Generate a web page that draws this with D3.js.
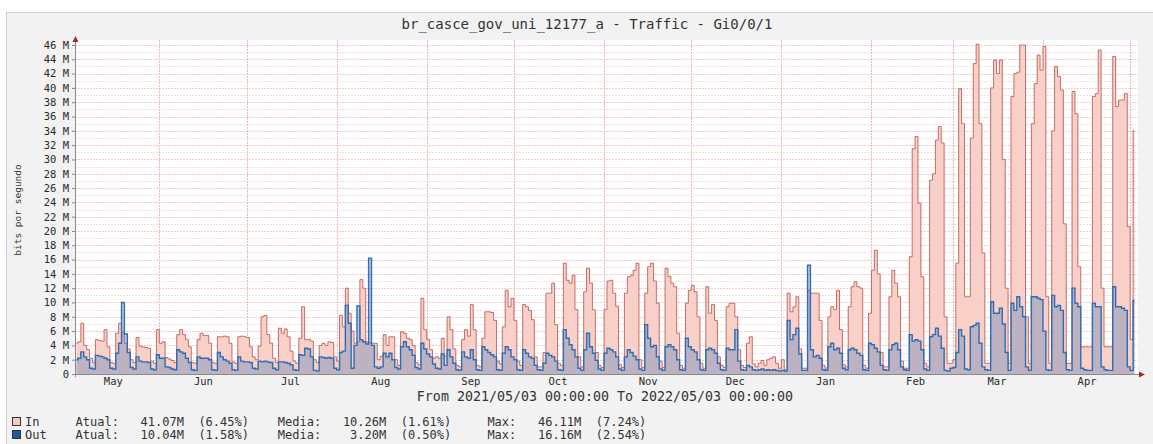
<!DOCTYPE html>
<html>
<head>
<meta charset="utf-8">
<title>br_casce_gov_uni_12177_a - Traffic - Gi0/0/1</title>
<script src="https://cdn.jsdelivr.net/npm/d3@7"></script>
<style>
  body { margin: 0; background: #fff; }
  svg text { font-family: "DejaVu Sans Mono", monospace; fill: #333; }
</style>
</head>
<body>
<div id="chart"></div>
<script>
var startDate = new Date(2021, 4, 3);
var endDate = new Date(2022, 4, 3);

// daily traffic in Mbit/s, one row per week (Mon..Sun)
var inMb = [
  4.3, 4.5, 7.1, 4.0, 3.4, 2.2, 1.6,
  4.8, 4.7, 4.6, 6.2, 3.8, 1.6, 1.5,
  5.7, 7.1, 5.8, 4.3, 3.5, 2.0, 1.6,
  5.1, 3.9, 3.8, 3.7, 3.6, 1.8, 1.5,
  6.2, 4.3, 4.5, 2.3, 2.1, 1.9, 1.6,
  5.5, 6.2, 5.5, 4.8, 3.8, 1.6, 1.5,
  4.8, 5.7, 5.4, 5.4, 4.3, 1.6, 1.5,
  5.2, 5.2, 5.3, 5.2, 4.3, 1.7, 1.5,
  5.2, 5.3, 5.2, 5.1, 3.8, 2.4, 2.0,
  3.9, 8.0, 8.2, 5.5, 4.3, 2.2, 1.6,
  6.4, 5.7, 6.3, 5.2, 3.2, 1.8, 1.5,
  5.0, 9.4, 4.8, 4.8, 4.6, 2.0, 1.6,
  4.0, 4.3, 4.0, 4.5, 4.4, 2.4, 1.8,
  8.2, 6.6, 12.0, 8.5, 6.0, 4.3, 4.5,
  13.2, 12.0, 4.5, 4.4, 4.3, 4.3, 2.0,
  2.5, 5.5, 4.0, 5.2, 5.2, 2.0, 1.2,
  5.9, 5.7, 5.0, 4.8, 4.0, 1.6, 1.3,
  10.6, 6.2, 4.8, 3.4, 2.2, 2.4, 2.2,
  5.0, 2.5, 8.0, 6.2, 3.5, 1.2, 1.0,
  4.8, 6.2, 5.3, 9.7, 6.2, 1.2, 1.0,
  5.0, 8.7, 8.7, 8.6, 7.5, 1.8, 1.4,
  6.6, 11.7, 9.4, 10.6, 7.5, 1.8, 1.2,
  9.7, 9.4, 8.9, 7.6, 2.4, 1.0, 1.0,
  3.0, 11.3, 11.3, 12.7, 6.9, 1.5, 1.2,
  15.5, 13.1, 12.7, 13.8, 9.0, 2.4, 1.0,
  11.5, 14.8, 12.7, 9.0, 3.0, 1.2, 0.9,
  9.0, 13.0, 13.1, 11.3, 9.5, 1.3, 0.9,
  11.3, 13.6, 13.8, 14.5, 15.5, 2.0, 0.9,
  11.3, 15.0, 15.5, 13.0, 9.9, 1.8, 0.9,
  14.8, 13.6, 12.7, 12.2, 5.7, 1.2, 0.8,
  9.9, 11.7, 12.4, 11.5, 8.0, 1.5, 0.8,
  12.2, 8.5, 9.7, 7.5, 2.4, 1.2, 0.9,
  9.4, 9.9, 9.9, 8.0, 3.4, 1.2, 0.9,
  4.3, 5.2, 1.4, 1.0, 1.5, 1.9, 1.2,
  2.0, 2.2, 2.4, 1.5, 0.8, 2.0, 0.6,
  11.3, 8.7, 9.4, 10.8, 3.5, 0.8, 0.8,
  11.7, 11.3, 11.3, 11.3, 7.5, 1.2, 0.8,
  8.0, 9.4, 9.0, 11.7, 6.2, 1.3, 1.0,
  9.4, 12.2, 12.9, 12.2, 12.0, 1.2, 0.8,
  8.5, 14.5, 17.3, 14.0, 3.0, 1.0, 1.0,
  10.8, 14.5, 12.7, 10.8, 1.8, 0.8, 0.8,
  16.4, 31.5, 33.2, 23.9, 13.6, 1.5, 1.0,
  27.1, 28.0, 32.7, 34.6, 32.3, 8.0, 1.5,
  1.5, 2.0, 15.5, 39.9, 35.0, 10.8, 10.8,
  33.0, 43.4, 46.1, 35.0, 16.9, 1.5, 1.5,
  40.0, 43.9, 42.0, 43.9, 30.0, 12.0, 1.5,
  38.8, 42.0, 42.2, 46.0, 46.0, 8.0, 1.5,
  35.0, 40.6, 44.6, 42.5, 45.8, 10.8, 1.5,
  34.0, 43.0, 41.6, 39.7, 21.0, 1.5, 1.5,
  39.5, 36.4, 15.0, 3.8, 3.8, 3.8, 3.8,
  38.8, 39.2, 45.3, 12.0, 3.8, 3.8, 3.8,
  44.4, 37.4, 38.3, 38.3, 39.2, 20.6, 4.8,
  34.0
];

var outMb = [
  2.0, 2.2, 3.1, 2.4, 2.0, 0.8, 0.7,
  2.6, 2.5, 2.4, 2.2, 2.0, 0.8, 0.7,
  2.9, 4.3, 10.0, 5.6, 3.0, 0.9, 0.7,
  2.4, 1.8, 1.7, 1.7, 1.6, 0.7, 0.6,
  2.7, 2.2, 2.2, 1.0, 0.9, 0.7, 0.6,
  3.4, 3.1, 2.9, 2.2, 1.6, 0.6, 0.5,
  2.4, 2.2, 2.2, 2.2, 2.0, 0.6, 0.5,
  3.0, 2.4, 2.0, 1.8, 1.5, 0.6, 0.5,
  2.4, 1.8, 1.7, 1.7, 1.6, 0.8, 0.7,
  1.8, 1.7, 1.8, 1.7, 1.6, 0.8, 0.6,
  1.7, 1.7, 1.6, 1.5, 1.3, 0.6, 0.5,
  2.7, 2.6, 3.6, 3.5, 2.4, 0.5, 0.4,
  2.4, 2.3, 2.2, 2.3, 2.2, 0.8, 0.6,
  3.0, 3.2, 9.6, 7.1, 0.8, 4.0, 9.5,
  4.8, 4.5, 4.2, 16.2, 4.0, 1.0, 0.8,
  1.0, 2.9, 2.4, 2.9, 2.0, 0.9, 0.7,
  3.8, 4.5, 3.8, 3.4, 2.6, 0.9, 0.7,
  4.3, 3.5, 2.8, 2.4, 1.4, 0.8, 0.7,
  2.8, 1.2, 3.4, 2.4, 1.5, 0.6, 0.5,
  3.1, 2.4, 2.2, 3.4, 2.0, 0.6, 0.5,
  3.8, 3.4, 3.0, 2.7, 2.4, 0.6, 0.5,
  2.9, 3.8, 3.4, 2.4, 2.0, 0.6, 0.5,
  3.4, 2.9, 2.4, 2.2, 1.2, 0.6, 0.5,
  1.5, 2.9, 2.6, 2.4, 1.8, 0.6, 0.5,
  6.2, 5.0, 4.1, 3.4, 2.4, 0.8, 0.5,
  3.4, 5.7, 3.8, 2.9, 1.9, 0.7, 0.5,
  2.9, 3.6, 3.4, 3.1, 2.4, 0.7, 0.5,
  2.4, 3.4, 3.0, 2.5, 2.0, 0.7, 0.5,
  6.9, 5.0, 3.8, 4.0, 2.4, 0.7, 0.5,
  3.8, 4.1, 3.8, 3.4, 2.0, 0.6, 0.5,
  5.0, 3.8, 3.4, 3.1, 2.0, 0.6, 0.5,
  3.4, 3.6, 3.4, 2.9, 1.5, 0.6, 0.5,
  3.6, 3.4, 3.4, 6.2, 1.8, 0.6, 0.5,
  1.2, 1.0, 0.6, 0.5, 0.6, 0.7, 0.5,
  0.6, 0.5, 0.6, 0.5, 0.4, 0.5, 0.4,
  7.5, 4.8, 5.5, 6.4, 2.8, 0.5, 0.5,
  15.2, 3.4, 2.4, 2.6, 2.2, 0.6, 0.5,
  3.8, 4.3, 3.4, 3.6, 2.9, 0.8, 0.6,
  3.4, 3.6, 3.4, 2.9, 2.6, 0.6, 0.5,
  4.3, 4.1, 3.6, 3.1, 1.2, 0.6, 0.5,
  3.4, 4.1, 4.3, 3.4, 1.0, 0.6, 0.5,
  5.5, 4.6, 4.8, 4.6, 3.4, 0.7, 0.5,
  5.2, 5.5, 6.4, 5.3, 3.6, 0.5, 0.4,
  0.8, 0.9, 3.0, 6.2, 5.3, 0.7, 0.6,
  6.6, 6.8, 7.1, 4.3, 1.0, 0.6, 0.5,
  10.1, 8.5, 8.5, 9.2, 7.0, 3.0, 0.5,
  9.9, 8.9, 10.8, 9.4, 8.0, 1.0, 0.5,
  10.8, 10.8, 10.6, 10.4, 6.0, 0.6, 0.5,
  11.0, 9.4, 9.6, 8.9, 3.0, 0.6, 0.5,
  12.0, 9.9, 9.4, 0.8, 0.6, 0.5, 0.5,
  9.9, 9.4, 9.4, 1.0, 0.6, 0.5, 0.5,
  12.2, 9.4, 9.4, 9.2, 8.9, 1.0, 0.5,
  10.3
];

var yTicks = [0, 2, 4, 6, 8, 10, 12, 14, 16, 18, 20, 22, 24, 26, 28, 30, 32, 34, 36, 38, 40, 42, 44, 46];

var legendNames = ["In", "Out"];
var legendColors = ["#f4cbc3", "#1d5a9e"];
var atual = ["41.07M", "10.04M"];
var atualPct = ["(6.45%)", "(1.58%)"];
var media = ["10.26M", "3.20M"];
var mediaPct = ["(1.61%)", "(0.50%)"];
var maxVal = ["46.11M", "16.16M"];
var maxPct = ["(7.24%)", "(2.54%)"];

var W = 1153, H = 444;
var plotL = 75, plotR = 1136, plotT = 45, plotB = 374;

var svg = d3.select("#chart").append("svg").attr("width", W).attr("height", H);

// canvas frame
svg.append("rect").attr("x", 6.5).attr("y", 12.5).attr("width", W).attr("height", H)
  .attr("fill", "#f2f2f2").attr("stroke", "#cfcfcf");
svg.append("rect").attr("x", plotL).attr("y", 40).attr("width", plotR - plotL + 2).attr("height", plotB - 40)
  .attr("fill", "#fff");

var x = d3.scaleTime().domain([startDate, endDate]).range([plotL, plotR]);
var y = d3.scaleLinear().domain([0, 46]).range([plotB, plotT]);

// grid
var grid = svg.append("g");
grid.selectAll("line.minor").data(y.ticks(46)).enter().append("line")
  .attr("x1", plotL).attr("x2", plotR + 2)
  .attr("y1", function(d) { return Math.round(y(d)) + 0.5; })
  .attr("y2", function(d) { return Math.round(y(d)) + 0.5; })
  .attr("stroke", function(d) { return d % 2 == 0 ? "#f4caca" : "#f9e0e0"; })
  .attr("stroke-dasharray", "2,1");
grid.selectAll("line.month").data(x.ticks(d3.timeMonth.every(1))).enter().append("line")
  .attr("x1", function(d) { return Math.round(x(d)) + 0.5; })
  .attr("x2", function(d) { return Math.round(x(d)) + 0.5; })
  .attr("y1", 40).attr("y2", plotB)
  .attr("stroke", "#f1b8b8").attr("stroke-dasharray", "2,1");

// one point per day, placed at noon; steps switch at midnight
function series(vals) {
  return vals.map(function(v, i) {
    return { date: d3.timeHour.offset(d3.timeDay.offset(startDate, i), 12), v: v };
  });
}

var area = d3.area().curve(d3.curveStep)
  .x(function(d) { return x(d.date); })
  .y0(y(0))
  .y1(function(d) { return y(d.v); });
var line = d3.line().curve(d3.curveStep)
  .x(function(d) { return x(d.date); })
  .y(function(d) { return y(d.v); });

var inPts = series(inMb), outPts = series(outMb);

svg.append("path").datum(inPts).attr("d", area).attr("fill", "#f8d0c8");
svg.append("path").datum(inPts).attr("d", line).attr("fill", "none")
  .attr("stroke", "#b5504a").attr("stroke-width", 1).attr("stroke-opacity", 0.8);
svg.append("path").datum(outPts).attr("d", area).attr("fill", "rgb(98,132,185)").attr("fill-opacity", 0.4);
svg.append("path").datum(outPts).attr("d", line).attr("fill", "none")
  .attr("stroke", "#2f6db3").attr("stroke-width", 1.4);

// y axis
var yAxis = d3.axisLeft(y).tickValues(yTicks)
  .tickFormat(function(d) { return d == 0 ? "0" : d + " M"; })
  .tickSize(3).tickPadding(3);
var ya = svg.append("g").attr("transform", "translate(" + plotL + ",0)").call(yAxis);
ya.select(".domain").remove();
ya.selectAll("line").attr("stroke", "#888");
ya.selectAll("text").style("font-size", "10.5px").style("fill", "#2a2a2a");

// x axis: month names at mid-month
var monthMids = d3.timeMonth.range(new Date(2021, 4, 1), new Date(2022, 4, 1))
  .map(function(m) { return d3.timeDay.offset(m, 15); });
var xAxis = d3.axisBottom(x).tickValues(monthMids).tickFormat(d3.timeFormat("%b")).tickSize(0).tickPadding(4);
var xa = svg.append("g").attr("transform", "translate(0," + plotB + ")").call(xAxis);
xa.select(".domain").remove();
xa.selectAll("text").style("font-size", "10.5px").style("fill", "#2a2a2a");

// axis lines with arrows
svg.append("line").attr("x1", plotL - 3).attr("x2", plotR + 4).attr("y1", plotB + 0.5).attr("y2", plotB + 0.5)
  .attr("stroke", "#8a8a8a");
svg.append("line").attr("x1", plotL + 0.5).attr("x2", plotL + 0.5).attr("y1", plotB + 3).attr("y2", 40)
  .attr("stroke", "#8a8a8a");
svg.append("path").attr("d", "M" + (plotR + 3) + "," + (plotB - 2.5) + "L" + (plotR + 9) + "," + (plotB + 0.5) + "L" + (plotR + 3) + "," + (plotB + 3.5) + "Z")
  .attr("fill", "#a32a2a");
svg.append("path").attr("d", "M" + (plotL - 2.5) + ",42L" + (plotL + 0.5) + ",36L" + (plotL + 3.5) + ",42Z")
  .attr("fill", "#a32a2a");

// texts
svg.append("text").attr("x", 587).attr("y", 29).attr("text-anchor", "middle")
  .style("font-size", "14px").text("br_casce_gov_uni_12177_a - Traffic - Gi0/0/1");
svg.append("text").attr("transform", "translate(21,210) rotate(-90)").attr("text-anchor", "middle")
  .style("font-size", "9.5px").text("bits por segundo");
svg.append("text").attr("x", 605).attr("y", 401).attr("text-anchor", "middle")
  .style("font-size", "13.3px").text("From 2021/05/03 00:00:00 To 2022/05/03 00:00:00");

// legend, fixed-width columns like rrdtool's GPRINT
function pad(s, n) { while (s.length < n) s = " " + s; return s; }
var leg = svg.append("g");
legendNames.forEach(function(name, i) {
  var ly = 426 + i * 13;
  leg.append("rect").attr("x", 12.5).attr("y", ly - 8.5).attr("width", 8).attr("height", 8)
    .attr("fill", legendColors[i]).attr("stroke", "#333");
  var row = (name + "       ").slice(0, 7) + "Atual:" + pad(atual[i], 9) + "  " + atualPct[i] +
    "    Media:" + pad(media[i], 9) + "  " + mediaPct[i] +
    "     Max:" + pad(maxVal[i], 9) + "  " + maxPct[i];
  leg.append("text").attr("x", 25).attr("y", ly).style("white-space", "pre")
    .style("font-size", "12px").text(row);
});
</script>
</body>
</html>
